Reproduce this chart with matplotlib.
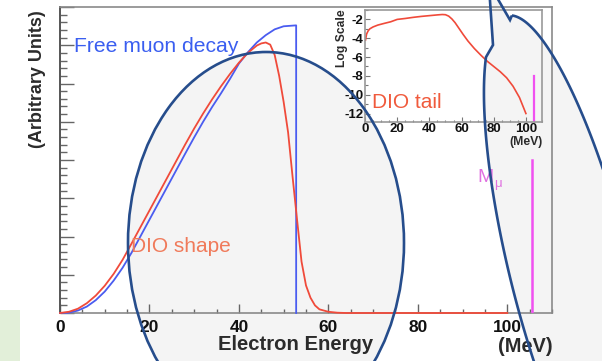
import numpy as np
import matplotlib
matplotlib.use("Agg")
import matplotlib.pyplot as plt
from matplotlib.patches import Ellipse, Polygon, Rectangle
from matplotlib.ticker import MultipleLocator

plt.rcParams['font.family'] = ['Liberation Sans', 'DejaVu Sans']
plt.rcParams['axes.unicode_minus'] = False

# DIO spectrum (linear, arbitrary units)
dio_e = [0, 2, 4, 6, 8, 10, 12, 14, 16, 18, 20, 22, 24, 26, 28, 30, 32, 34, 36, 38,
         40, 42, 44, 45, 46, 47, 48, 49, 50, 51, 52, 53, 54, 55, 56, 57, 58, 60, 62, 64, 100]
dio_y = [0, .004, .014, .032, .057, .089, .128, .174, .227, .281, .335, .389, .443, .497,
         .551, .603, .652, .698, .741, .781, .818, .850, .874, .881, .884, .877, .843, .775,
         .690, .590, .445, .305, .168, .090, .050, .025, .012, .004, .001, 0, 0]

# free muon decay (Michel) spectrum
free_e = [0, 2, 4, 6, 8, 10, 12, 14, 16, 18, 20, 22, 24, 26, 28, 30, 32, 34, 36, 38,
          40, 42, 44, 46, 48, 50, 52.8, 52.8]
free_y = [0, .001, .008, .021, .042, .070, .106, .148, .197, .251, .305, .359, .413, .467,
          .521, .574, .625, .673, .718, .765, .815, .852, .884, .908, .927, .937, .940, 0]

# DIO tail, log10 scale (inset)
tail_e = [0.3, 1, 2, 3, 5, 8, 12, 16, 20, 25, 30, 35, 40, 45, 48, 50, 52, 54, 56, 58,
          61, 64, 68, 72, 76, 80, 84, 88, 92, 96, 100]
tail_log = [-4.2, -3.55, -3.2, -3.0, -2.8, -2.6, -2.42, -2.25, -2.0, -1.9, -1.78, -1.68,
            -1.6, -1.52, -1.48, -1.5, -1.65, -1.95, -2.35, -2.85, -3.6, -4.3, -5.1, -5.8,
            -6.45, -7.0, -7.55, -8.2, -9.1, -10.3, -12.0]

m_mu = 105.5
m_mu_h = 0.5
m_mu_log = -8.0

main_xticks = [0, 20, 40, 60, 80, 100]
inset_yticks = [-2, -4, -6, -8, -10, -12]

red = '#f04a3a'
blue = '#4a5cf0'
pink = '#f050f0'
navy = '#264d8c'
fillc = '#f4f4f4'
txt = '#2b2b2b'

W, H = 602, 361


def fx(x):
    return x / W


def fy(y):
    return 1 - y / H


fig = plt.figure(figsize=(W / 100, H / 100), dpi=100)

# main axes
ax = fig.add_axes([fx(60), fy(313), 492 / W, 306 / H])
ax.set_facecolor('none')
ax.plot(free_e, free_y, color=blue, lw=1.3, clip_on=False, zorder=3)
ax.plot(dio_e, dio_y, color=red, lw=1.3, clip_on=False, zorder=4)
ax.plot([m_mu, m_mu], [0, m_mu_h], color=pink, lw=1.8, zorder=3)
ax.set_xlim(0, 110)
ax.set_ylim(0, 1)
ax.set_xticks(main_xticks)
ax.xaxis.set_minor_locator(MultipleLocator(5))
ax.set_yticks(np.arange(0, 1.01, 0.125))
ax.yaxis.set_minor_locator(MultipleLocator(0.025))
ax.set_yticklabels([])
ax.tick_params(axis='x', which='major', direction='in', length=6.5, width=1, color='#666',
               labelsize=12.5, pad=5, labelcolor='#111')
ax.tick_params(axis='x', which='minor', direction='in', length=3.2, width=1, color='#666')
ax.tick_params(axis='y', which='major', direction='in', length=10, width=1, color='#666')
ax.tick_params(axis='y', which='minor', direction='in', length=5, width=1, color='#666')
for lab in ax.get_xticklabels():
    lab.set_fontweight('bold')
ax.spines['left'].set_color('#555')
ax.spines['left'].set_linewidth(1.4)
for s in ['top', 'right', 'bottom']:
    ax.spines[s].set_color('#8a8a8a')
    ax.spines[s].set_linewidth(1.2)

ax.text(fx(74), fy(52), 'Free muon decay', transform=fig.transFigure, color='#3a5ef0',
        fontsize=15.2, va='baseline', ha='left', zorder=5)
ax.text(fx(131), fy(252), 'DIO shape', transform=fig.transFigure, color='#f07a5a',
        fontsize=15, va='baseline', ha='left', zorder=5)
ax.text(fx(477), fy(182), 'M', transform=fig.transFigure, color='#e070e0',
        fontsize=14, va='baseline', ha='left', zorder=5)
ax.text(fx(494), fy(187), '\u03bc', transform=fig.transFigure, color='#e070e0',
        fontsize=9.5, va='baseline', ha='left', zorder=5)

fig.text(fx(296), fy(345), 'Electron Energy', fontsize=14.6, fontweight='bold', color=txt,
         ha='center', va='center')
fig.text(fx(553), fy(346), '(MeV)', fontsize=14.4, fontweight='bold', color=txt,
         ha='right', va='center')
fig.text(fx(37), fy(79), '(Arbitrary Units)', fontsize=13, fontweight='bold', color=txt,
         rotation=90, ha='center', va='center')

# inset with log scale tail
ins = fig.add_axes([fx(365), fy(122), 177 / W, 112 / H])
ins.set_facecolor('none')
ins.plot(tail_e, tail_log, color=red, lw=1.2)
ins.plot([105, 105], [-13, m_mu_log], color=pink, lw=1.6)
ins.set_xlim(0, 110)
ins.set_ylim(-12.9, -1.0)
ins.set_xticks(main_xticks)
ins.set_yticks(inset_yticks)
ins.xaxis.set_minor_locator(MultipleLocator(5))
ins.yaxis.set_minor_locator(MultipleLocator(1))
ins.tick_params(which='major', direction='in', length=3.5, width=0.8, color='#777',
                labelsize=9.5, pad=1, labelcolor='#111')
ins.tick_params(which='minor', direction='in', length=1.8, width=0.8, color='#777')
for lab in ins.get_xticklabels() + ins.get_yticklabels():
    lab.set_fontweight('bold')
for s in ins.spines.values():
    s.set_color('#999')
    s.set_linewidth(1.2)
ins.text(fx(372), fy(108), 'DIO tail', transform=fig.transFigure, color='#f05a3c',
         fontsize=15, va='baseline', ha='left')
fig.text(fx(342), fy(38), 'Log Scale', fontsize=8.7, fontweight='bold', color=txt,
         rotation=90, ha='center', va='center')
fig.text(fx(543), fy(142), '(MeV)', fontsize=8.8, fontweight='bold', color=txt,
         ha='right', va='center')

# slide decorations: green box and two hand-drawn ellipses
fig.add_artist(Rectangle((0, 0), fx(20), 51 / H, transform=fig.transFigure,
                         facecolor='#e2efd9', edgecolor='none', zorder=-2))

left_ell = dict(xy=(fx(266), fy(243)), width=276 / W, height=382 / H,
                transform=fig.transFigure)
fig.add_artist(Ellipse(**left_ell, facecolor=fillc, edgecolor='none', zorder=-1))
fig.add_artist(Ellipse(**left_ell, fill=False, edgecolor=navy, lw=1.9, zorder=10))

# right callout ellipse (rotated) with pointer going off the top
cx, cy, a, b, phi = 570, 270, 60, 262, np.radians(14)
t = np.radians(np.linspace(-85, 240, 300))
ux, uy = np.cos(phi), -np.sin(phi)
vx, vy = np.sin(phi), np.cos(phi)
px = cx + a * np.cos(t) * ux + b * np.sin(t) * vx
py = cy + a * np.cos(t) * uy + b * np.sin(t) * vy
px = np.concatenate([px, [493, 489.6, 495.5, 510]])
py = np.concatenate([py, [45, -5, -5, 20]])
pts = np.column_stack([fx(px), fy(py)])
fig.add_artist(Polygon(pts, closed=True, transform=fig.transFigure, facecolor=fillc,
                       edgecolor='none', zorder=-1))
fig.add_artist(Polygon(pts, closed=True, transform=fig.transFigure, fill=False,
                       edgecolor=navy, lw=1.9, zorder=10))

fig.savefig('out.png', dpi=100)
